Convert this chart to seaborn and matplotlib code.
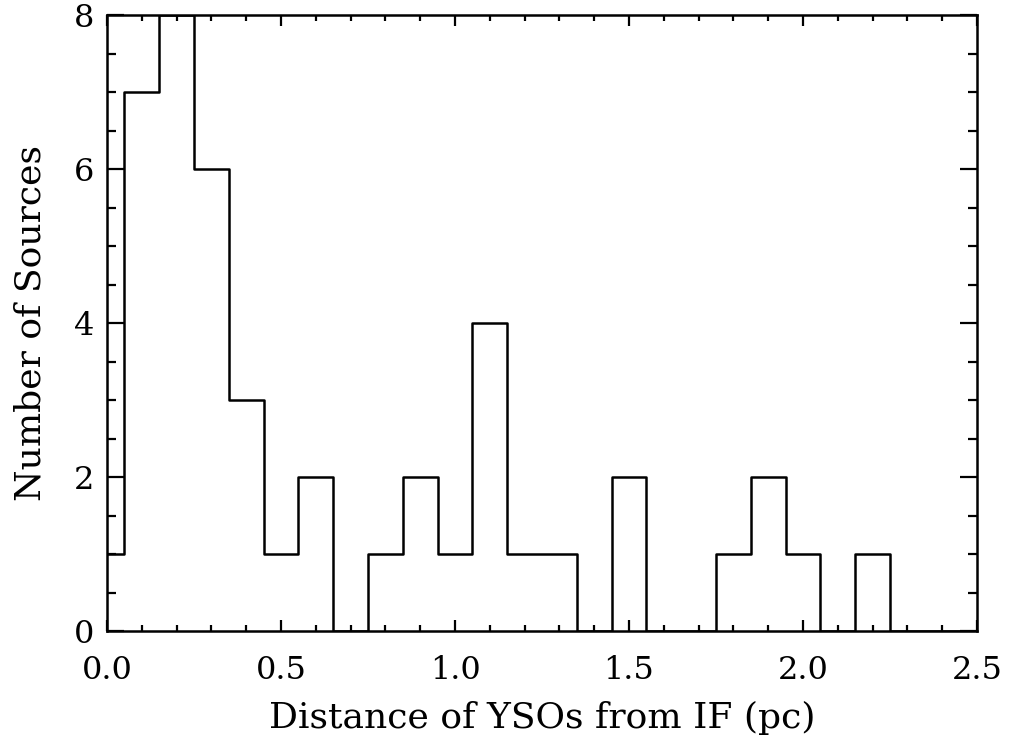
import numpy as np
import pandas as pd
import matplotlib
matplotlib.use("Agg")
import matplotlib.pyplot as plt
from matplotlib.ticker import MultipleLocator, FormatStrFormatter
import seaborn as sns

# Bin centres (pc) and number of sources per bin
bin_centers = [0.0, 0.1, 0.2, 0.3, 0.4, 0.5, 0.6, 0.7, 0.8, 0.9, 1.0, 1.1, 1.2,
               1.3, 1.4, 1.5, 1.6, 1.7, 1.8, 1.9, 2.0, 2.1, 2.2, 2.3, 2.4, 2.5]
counts = [1, 7, 8, 6, 3, 1, 2, 0, 1, 2, 1, 4, 1,
          1, 0, 2, 0, 0, 1, 2, 1, 0, 1, 0, 0, 0]
bin_width = 0.1
x_label = "Distance of YSOs from IF (pc)"
y_label = "Number of Sources"

df = pd.DataFrame({"distance": bin_centers, "n": counts})
lo = bin_centers[0] - bin_width / 2
hi = bin_centers[-1] + bin_width / 2

sns.set_style("ticks")
plt.rcParams["font.family"] = ["DejaVu Serif", "DejaVu Sans"]
plt.rcParams["text.color"] = "black"
plt.rcParams["axes.labelcolor"] = "black"

fig = plt.figure(figsize=(10.14, 7.43), dpi=100)
ax = fig.add_axes([107 / 1014, 112 / 743, 870 / 1014, 616 / 743])

sns.histplot(data=df, x="distance", weights="n", binwidth=bin_width,
             binrange=(lo, hi), element="step",
             fill=False, color="black", linewidth=1.8, ax=ax)

ax.set_xlim(0, 2.5)
ax.set_ylim(0, 8)
ax.xaxis.set_major_locator(MultipleLocator(0.5))
ax.xaxis.set_minor_locator(MultipleLocator(0.1))
ax.yaxis.set_major_locator(MultipleLocator(2))
ax.yaxis.set_minor_locator(MultipleLocator(0.5))
ax.xaxis.set_major_formatter(FormatStrFormatter("%.1f"))
ax.tick_params(which="both", direction="in", top=True, right=True,
               width=1.6, colors="black", labelcolor="black")
ax.tick_params(axis="x", which="major", length=8, pad=17, labelsize=23)
ax.tick_params(axis="x", which="minor", length=4)
ax.tick_params(axis="y", which="major", length=12, pad=9, labelsize=23)
ax.tick_params(axis="y", which="minor", length=6.5)
for s in ax.spines.values():
    s.set_linewidth(1.8)
    s.set_visible(True)
    s.set_color("black")

ax.set_xlabel(x_label, fontsize=26, labelpad=11, color="black")
ax.set_ylabel(y_label, fontsize=26, labelpad=19, color="black")

fig.savefig("out.png", dpi=100)
